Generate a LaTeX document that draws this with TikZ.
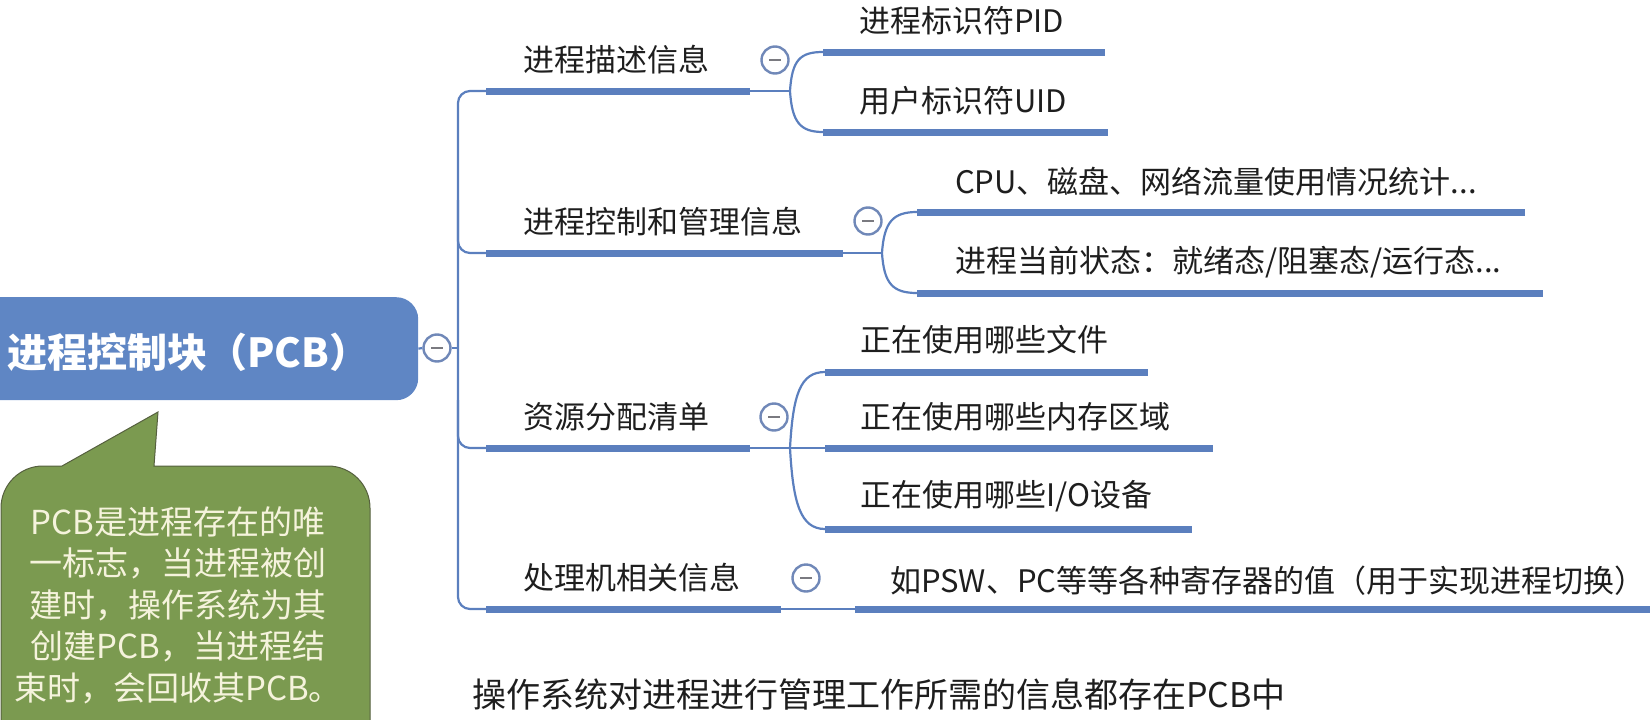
\documentclass[tikz,border=0pt]{standalone}
\usepackage{fontspec}
\setmainfont{Noto Sans CJK SC}
\definecolor{lineblue}{HTML}{5B7FBE}
\definecolor{rootblue}{HTML}{5F86C4}
\definecolor{ringblue}{HTML}{7088B8}
\definecolor{minusgray}{HTML}{7A7A80}
\definecolor{calloutgreen}{HTML}{7B9A50}
\definecolor{calloutedge}{HTML}{56603F}
\definecolor{creamtext}{HTML}{F5F3DC}
\definecolor{textdark}{HTML}{1E1E1E}
\tikzset{
  ulbar/.style={draw=lineblue, line width=7pt},
  twig/.style={draw=lineblue, line width=2.2pt},
  mnode/.style={circle, draw=ringblue, line width=2.4pt, fill=white, minimum size=27pt, inner sep=0pt,
    path picture={\draw[draw=minusgray, line width=2.4pt] ([xshift=-6pt]path picture bounding box.center) -- ([xshift=6pt]path picture bounding box.center);}},
  brtext/.style={anchor=west, inner sep=0pt, font=\fontsize{31}{37}\selectfont, text=textdark},
  callout/.style={fill=calloutgreen, draw=calloutedge, line width=1pt},
}
\begin{document}
\begin{tikzpicture}[x=1pt,y=-1pt]
\useasboundingbox (0,0) rectangle (1650,720);
% root
\node[fill=rootblue, rounded corners=22pt, minimum width=448pt, minimum height=103pt, anchor=north west, inner sep=0pt] (rootbox) at (-30,297) {};
\node[anchor=west, inner sep=0pt, text=white, font=\bfseries\fontsize{40}{46}\selectfont] (root) at (7,352) {进程控制块（PCB）};
\node[mnode] (c0) at (437,348) {};
\coordinate (t0) at (458,348);
\draw[twig] (rootbox.east) -- (c0.west);
\draw[twig] (c0.east) -- (t0);
% branch anchors
\coordinate (b1s) at (486,91);  \coordinate (b1e) at (750,91);  \coordinate (s1) at (790,91);
\coordinate (b2s) at (486,253); \coordinate (b2e) at (843,253); \coordinate (s2) at (882,253);
\coordinate (b3s) at (486,448); \coordinate (b3e) at (750,448); \coordinate (s3) at (790,448);
\coordinate (b4s) at (486,609); \coordinate (b4e) at (781,609); \coordinate (s4) at (855,609);
% trunk
\draw[twig, rounded corners=12pt] (b1s) -| (t0) |- (b4s);
\draw[twig, rounded corners=12pt] (458,200) |- (b2s);
\draw[twig, rounded corners=12pt] (458,400) |- (b3s);
% branch texts
\node[brtext] (n1) at (523,60) {进程描述信息};
\node[brtext] (n2) at (523,222) {进程控制和管理信息};
\node[brtext] (n3) at (523,417) {资源分配清单};
\node[brtext] (n4) at (523,578) {处理机相关信息};
% branch bars
\draw[ulbar] (b1s) -- (b1e); \draw[twig] (b1e) -- (s1);
\draw[ulbar] (b2s) -- (b2e); \draw[twig] (b2e) -- (s2);
\draw[ulbar] (b3s) -- (b3e); \draw[twig] (b3e) -- (s3);
\draw[ulbar] (b4s) -- (b4e); \draw[twig] (b4e) -- (s4);
% collapse circles
\node[mnode] (c1) at (775,60) {};
\node[mnode] (c2) at (868,221) {};
\node[mnode] (c3) at (774,417) {};
\node[mnode] (c4) at (806,578) {};
% children of branch 1
\coordinate (k11) at (823,52);  \coordinate (k11e) at (1105,52);
\coordinate (k12) at (823,132); \coordinate (k12e) at (1108,132);
\draw[twig] (s1) .. controls (792,60) and (800,52) .. (k11);
\draw[twig] (s1) .. controls (792,122) and (800,132) .. (k12);
\draw[ulbar] (k11) -- (k11e);
\draw[ulbar] (k12) -- (k12e);
\node[brtext] (m11) at (859,21) {进程标识符PID};
\node[brtext] (m12) at (859,101) {用户标识符UID};
% children of branch 2
\coordinate (k21) at (917,212);  \coordinate (k21e) at (1525,212);
\coordinate (k22) at (917,293);  \coordinate (k22e) at (1543,293);
\draw[twig] (s2) .. controls (884,222) and (893,212) .. (k21);
\draw[twig] (s2) .. controls (884,284) and (893,293) .. (k22);
\draw[ulbar] (k21) -- (k21e);
\draw[ulbar] (k22) -- (k22e);
\node[brtext] (m21) at (955,182) {CPU、磁盘、网络流量使用情况统计...};
\node[brtext] (m22) at (955,262) {进程当前状态：就绪态/阻塞态/运行态...};
% children of branch 3
\coordinate (k31) at (825,372);  \coordinate (k31e) at (1148,372);
\coordinate (k32) at (825,448);  \coordinate (k32e) at (1213,448);
\coordinate (k33) at (825,529);  \coordinate (k33e) at (1192,529);
\draw[twig] (s3) .. controls (793,395) and (800,372) .. (k31);
\draw[twig] (s3) -- (k32);
\draw[twig] (s3) .. controls (793,502) and (800,529) .. (k33);
\draw[ulbar] (k31) -- (k31e);
\draw[ulbar] (k32) -- (k32e);
\draw[ulbar] (k33) -- (k33e);
\node[brtext] (m31) at (860,340) {正在使用哪些文件};
\node[brtext] (m32) at (860,417) {正在使用哪些内存区域};
\node[brtext] (m33) at (860,496) {正在使用哪些I/O设备};
% child of branch 4
\coordinate (k41e) at (1650,609);
\draw[ulbar] (s4) -- (k41e);
\node[brtext] (m41) at (890,581) {如PSW、PC等等各种寄存器的值（用于实现进程切换）};
% callout
\draw[callout] (1,740) -- (1,508) arc[start angle=180, end angle=90, radius=42pt] -- (62,466) -- (158,412) -- (154,466) -- (328,466) arc[start angle=90, end angle=0, radius=42pt] -- (370,740) -- cycle;
\node[align=center, inner sep=0pt, text=creamtext, font=\fontsize{33}{41.5}\selectfont] (note) at (178,605)
  {PCB是进程存在的唯\\一标志，当进程被创\\建时，操作系统为其\\创建PCB，当进程结\\束时，会回收其PCB。};
% footer
\node[anchor=west, inner sep=0pt, text=textdark, font=\fontsize{34}{40}\selectfont] (foot) at (472,694) {操作系统对进程进行管理工作所需的信息都存在PCB中};
\end{tikzpicture}
\end{document}
